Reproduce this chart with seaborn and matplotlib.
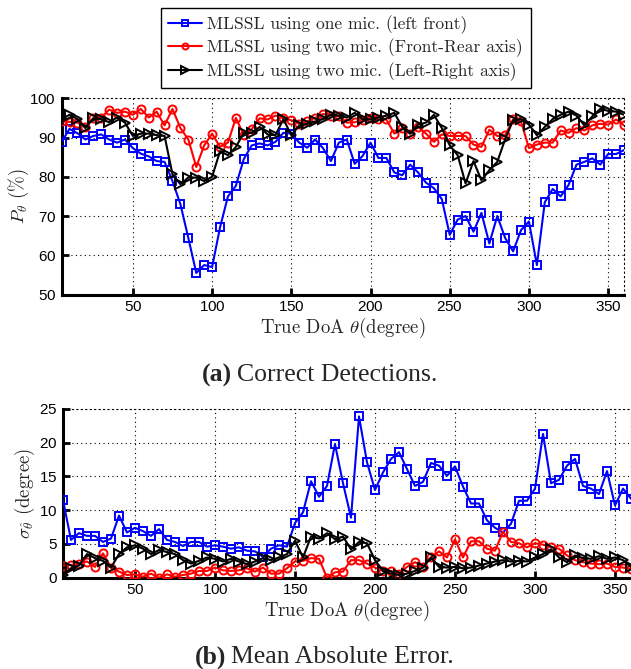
import matplotlib
matplotlib.use("Agg")
import matplotlib.pyplot as plt
import pandas as pd
import seaborn as sns

# True direction of arrival (degrees), one test position every 5 degrees
doa_deg = list(range(5, 361, 5))

# Correct detection rate P_theta (%)
pd_one_mic = [
    88.9, 92.2, 91.1, 89.5, 90.4, 90.8, 89.5, 88.7, 89.5, 87.3,
    85.9, 85.2, 84.0, 83.8, 78.9, 73.0, 64.4, 55.5, 57.5, 57.0,
    67.1, 75.0, 77.7, 84.5, 88.0, 88.5, 88.0, 88.9, 91.2, 91.0,
    88.7, 87.4, 89.5, 87.3, 84.0, 88.7, 89.5, 83.3, 85.3, 88.7,
    84.8, 84.8, 81.1, 80.4, 83.1, 81.1, 78.5, 77.1, 74.3, 65.2,
    69.1, 70.0, 66.0, 70.8, 63.0, 70.0, 64.4, 61.0, 66.4, 68.6,
    57.5, 73.5, 76.9, 75.0, 77.9, 83.1, 83.8, 84.7, 83.1, 85.8,
    85.8, 86.8,
]
pd_front_rear = [
    94.1, 94.0, 93.8, 92.7, 94.9, 95.1, 97.1, 96.3, 96.6, 95.8,
    97.3, 95.1, 96.6, 93.1, 97.3, 92.4, 89.5, 82.5, 88.0, 91.0,
    87.6, 88.7, 95.0, 90.6, 92.1, 94.9, 94.6, 95.6, 94.9, 94.4,
    93.5, 94.1, 95.0, 96.0, 95.6, 95.4, 93.8, 93.9, 94.5, 95.0,
    94.6, 94.6, 91.0, 92.4, 91.0, 92.7, 91.0, 88.9, 90.8, 90.4,
    90.4, 90.4, 88.2, 87.6, 92.0, 90.4, 90.6, 94.6, 94.1, 87.3,
    88.2, 88.7, 88.7, 91.8, 91.2, 92.4, 91.8, 93.1, 93.5, 93.3,
    94.6, 93.1,
]
pd_left_right = [
    94.7, 95.8, 94.7, 92.4, 94.9, 94.7, 93.9, 95.1, 93.8, 90.4,
    91.0, 91.0, 90.6, 90.4, 80.6, 78.1, 79.8, 79.8, 78.9, 80.0,
    86.5, 85.5, 87.6, 91.2, 91.2, 92.7, 90.8, 90.6, 94.7, 90.6,
    93.1, 93.5, 94.1, 94.7, 95.8, 95.6, 95.1, 96.3, 94.7, 94.6,
    95.1, 95.6, 96.3, 92.7, 91.0, 93.3, 93.8, 95.8, 92.4, 88.0,
    85.5, 78.3, 84.0, 79.1, 81.7, 83.8, 89.6, 94.4, 94.7, 93.3,
    90.6, 92.7, 94.7, 95.8, 96.6, 95.6, 93.1, 95.4, 97.3, 96.8,
    96.6, 95.8,
]

# Mean absolute error (degrees)
mae_one_mic = [
    11.5, 5.6, 6.6, 6.2, 6.2, 5.3, 5.8, 9.2, 6.7, 7.4,
    6.9, 6.2, 7.2, 5.6, 5.3, 4.7, 5.3, 5.3, 4.6, 4.8,
    4.6, 4.3, 4.5, 4.0, 3.9, 3.1, 4.3, 4.8, 4.6, 8.1,
    9.7, 14.3, 12.0, 13.6, 19.8, 14.0, 8.9, 23.9, 17.1, 13.0,
    15.6, 17.6, 18.6, 16.1, 13.6, 14.2, 17.0, 16.6, 15.1, 16.5,
    13.5, 11.0, 11.0, 8.5, 7.4, 6.7, 8.0, 11.4, 11.4, 13.2,
    21.3, 14.0, 14.5, 16.6, 17.6, 13.6, 13.2, 12.4, 15.8, 10.7,
    13.2, 11.7,
]
mae_front_rear = [
    1.8, 1.9, 2.1, 2.4, 1.6, 3.6, 1.5, 0.9, 0.4, 0.5,
    0.15, 0.6, 0.0, 0.5, 0.15, 0.4, 0.6, 1.0, 1.0, 1.5,
    1.1, 1.0, 1.1, 1.4, 0.9, 1.5, 0.6, 0.6, 1.4, 2.4,
    2.5, 2.9, 2.8, 0.0, 0.8, 0.9, 2.6, 2.6, 2.1, 1.5,
    1.0, 1.0, 0.6, 1.6, 2.3, 1.6, 3.0, 3.9, 3.0, 5.7,
    3.0, 5.4, 5.4, 4.3, 4.0, 6.8, 5.3, 5.1, 4.5, 5.1,
    4.9, 4.5, 4.3, 3.3, 2.6, 2.3, 2.1, 2.0, 2.1, 1.6,
    1.5, 1.3,
]
mae_left_right = [
    0.4, 1.4, 1.8, 3.5, 2.9, 2.5, 1.5, 3.5, 4.5, 4.8,
    4.3, 3.5, 4.1, 3.8, 3.5, 2.6, 2.1, 2.5, 3.0, 2.8,
    2.4, 2.8, 2.4, 2.0, 2.4, 2.9, 2.6, 3.0, 3.5, 5.5,
    3.0, 6.1, 5.8, 6.6, 5.7, 6.1, 4.2, 5.3, 5.1, 2.6,
    1.0, 0.6, 0.4, 0.6, 1.0, 1.5, 3.0, 1.6, 1.5, 1.6,
    1.4, 1.5, 1.8, 2.1, 2.4, 2.6, 2.4, 2.5, 2.4, 3.0,
    3.5, 4.2, 3.0, 2.3, 3.3, 2.9, 2.8, 3.2, 2.8, 3.0,
    2.6, 1.6,
]

series_labels = [
    "MLSSL using one mic. (left front)",
    "MLSSL using two mic. (Front-Rear axis)",
    "MLSSL using two mic. (Left-Right axis)",
]
series_colors = ["#0000ff", "#ff0000", "#000000"]
series_markers = ["s", "o", ">"]
series_msize = [5.8, 5.8, 6.8]

pd_x_ticks = [50, 100, 150, 200, 250, 300, 350]
pd_y_ticks = [50, 60, 70, 80, 90, 100]
mae_y_ticks = [0, 5, 10, 15, 20, 25]

sns.set_theme(style="ticks")
plt.rcParams["font.family"] = ["cmr10", "DejaVu Serif"]
plt.rcParams["mathtext.fontset"] = "cm"
plt.rcParams["axes.formatter.use_mathtext"] = True

W, H = 631, 669
fig = plt.figure(figsize=(W / 100, H / 100), dpi=100)


def frac_box(left, top, right, bottom):
    return [left / W, 1 - bottom / H, (right - left) / W, (bottom - top) / H]


ax_pd = fig.add_axes(frac_box(61.6, 98.3, 624.0, 294.5))
ax_mae = fig.add_axes(frac_box(63.0, 409.0, 631.0, 577.7))


def draw_series(ax, columns):
    handles = []
    for vals, lab, col, mk, ms in zip(columns, series_labels, series_colors,
                                      series_markers, series_msize):
        frame = pd.DataFrame({"doa": doa_deg, "val": vals})
        sns.lineplot(data=frame, x="doa", y="val", ax=ax, color=col,
                     linewidth=1.5, marker=mk, markersize=ms,
                     markerfacecolor="none", markeredgecolor=col,
                     markeredgewidth=1.4, label=lab, legend=False,
                     clip_on=True, zorder=3)
        handles.append(ax.lines[-1])
    return handles


def style_axes(ax, yticks, ylim):
    ax.set_xlim(5, 360)
    ax.set_ylim(*ylim)
    ax.set_xticks(pd_x_ticks)
    ax.set_yticks(yticks)
    ax.grid(True, color="black", linestyle=(0, (1, 3)), linewidth=0.8)
    ax.set_axisbelow(True)
    for side in ("bottom", "left"):
        ax.spines[side].set_linewidth(2.2)
        ax.spines[side].set_color("black")
    for side in ("top", "right"):
        ax.spines[side].set_linewidth(0.8)
        ax.spines[side].set_linestyle((0, (1, 3)))
        ax.spines[side].set_color("black")
    ax.tick_params(direction="in", length=5, width=2, labelsize=11,
                   colors="black", pad=4, top=False, right=False)
    for lab in ax.get_xticklabels() + ax.get_yticklabels():
        lab.set_fontfamily("Liberation Sans")
    ax.set_facecolor("white")


handles = draw_series(ax_pd, [pd_one_mic, pd_front_rear, pd_left_right])
style_axes(ax_pd, pd_y_ticks, (50, 100))
ax_pd.set_xlabel(r"True DoA $\theta$(degree)", fontsize=13.5, labelpad=1)
ax_pd.set_ylabel(r"$P_\theta$ (%)", fontsize=13.5)
ax_pd.yaxis.set_label_coords((31 - 61.6) / 562.4, 0.5)

draw_series(ax_mae, [mae_one_mic, mae_front_rear, mae_left_right])
style_axes(ax_mae, mae_y_ticks, (0, 25))
ax_mae.set_xlabel(r"True DoA $\theta$(degree)", fontsize=13.5, labelpad=1)
ax_mae.set_ylabel(r"$\sigma_{\hat{\theta}}$ (degree)", fontsize=13.5)
ax_mae.yaxis.set_label_coords((37 - 63) / 568, 0.5)

# Legend box spans a fixed strip at the top of the figure
leg_left, leg_right, leg_top, leg_bottom = 161, 531, 8, 86
leg = fig.legend(handles, series_labels, loc="upper left",
                 bbox_to_anchor=(leg_left / W, 1 - leg_bottom / H,
                                 (leg_right - leg_left) / W,
                                 (leg_bottom - leg_top) / H),
                 mode="expand", fontsize=12.6, frameon=True, fancybox=False,
                 edgecolor="black", framealpha=1, handlelength=1.95,
                 handletextpad=0.25, borderpad=0.42, labelspacing=0.27,
                 borderaxespad=0, markerscale=0.75)
leg.get_frame().set_linewidth(1.0)


def caption(x_px, y_px, tag, text):
    t1 = fig.text(x_px / W, 1 - y_px / H, tag, fontsize=18.5,
                  fontweight="bold", fontfamily="Liberation Serif",
                  ha="left", va="center")
    fig.canvas.draw()
    bb = t1.get_window_extent()
    fig.text((bb.x1 + 5) / W, 1 - y_px / H, text, fontsize=18.5,
             fontfamily="Liberation Serif", ha="left", va="center")


caption(202, 375, "(a)", "Correct Detections.")
caption(195, 657, "(b)", "Mean Absolute Error.")

fig.savefig("out.png", dpi=100, facecolor="white")
